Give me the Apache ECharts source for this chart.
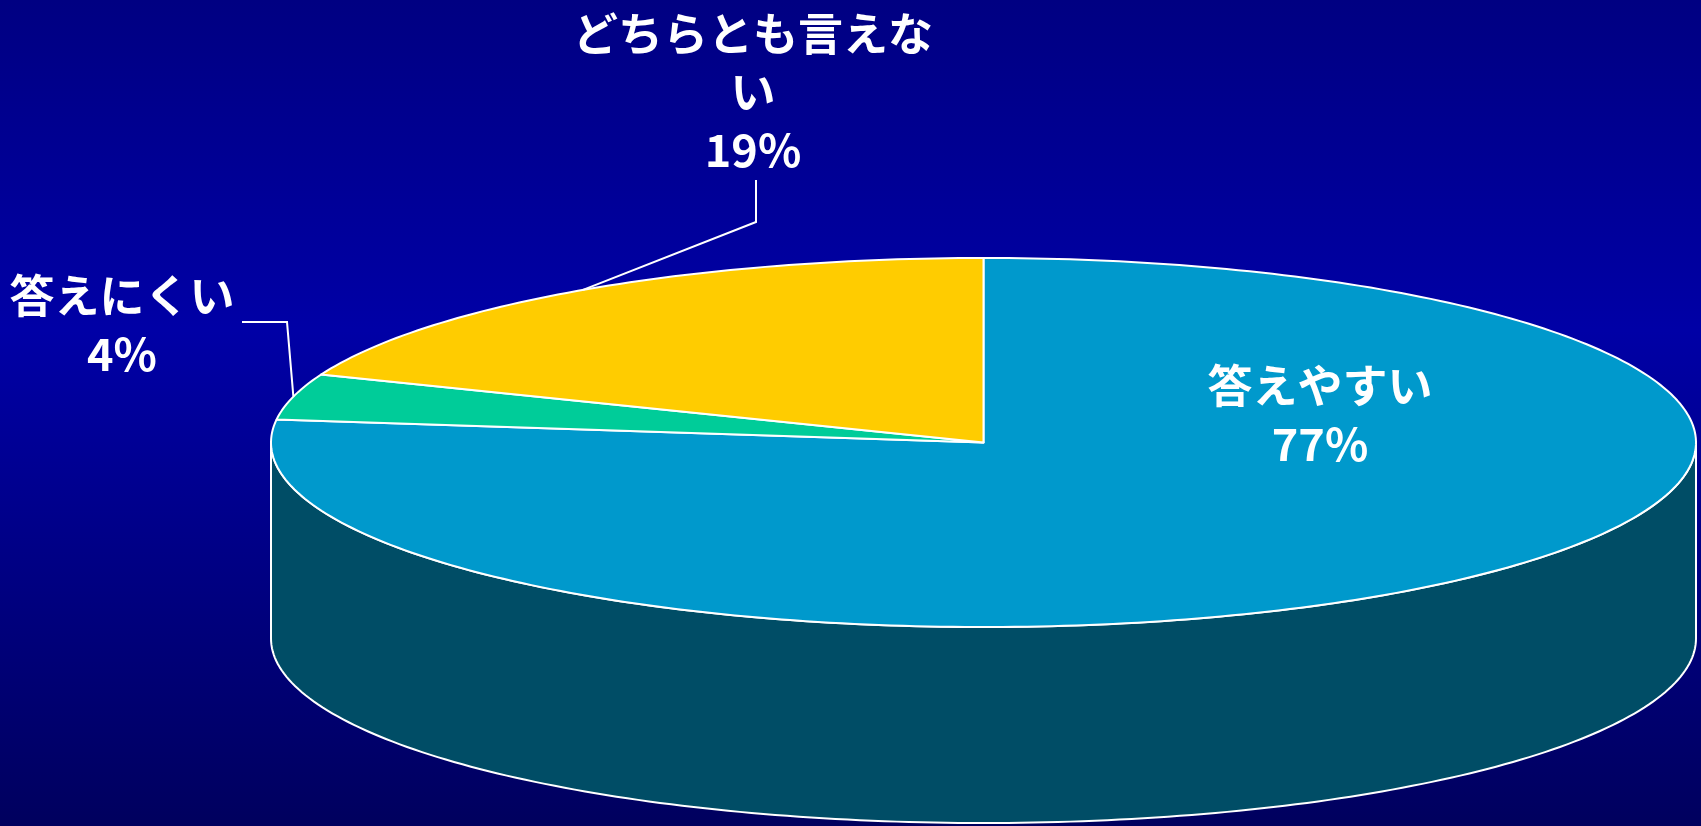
<!DOCTYPE html>
<html>
<head>
<meta charset="utf-8">
<script src="https://cdn.jsdelivr.net/npm/echarts@6/dist/echarts.min.js"></script>
<style>
  html, body { margin: 0; padding: 0; }
  #chart { width: 1701px; height: 826px; }
</style>
</head>
<body>
<div id="chart"></div>
<script>
// データ
const categories = ['答えやすい', '答えにくい', 'どちらとも言えない']
const values = [77, 4, 19]

// 見た目
const topColors = ['#0099CC', '#00CC99', '#FFCC00']
const sideColors = ['#004D66', '#006650', '#806600']
const FONT = '"Noto Sans CJK JP", sans-serif'

// 楕円 (top face) の配置
const geo = { cx: 983.5, cy: 442.5, rx: 712.5, ry: 184.5, depth: 196 }

// ラベル位置 (テキスト中心) と引き出し線の折れ点
const labelLayout = [
  { x: 1320, y: 415, elbow: null },
  { x: 122, y: 325, elbow: [[287, 322], [242, 322]] },
  { x: 753, y: 92, elbow: [[756, 222], [756, 180]] },
]

const total = values.reduce((a, b) => a + b, 0)
const starts = []
values.reduce((acc, v) => { starts.push(acc); return acc + v }, 0)

const angleOf = (v) => (v / total) * Math.PI * 2
const pt = (t, dz) => [geo.cx + geo.rx * Math.sin(t), geo.cy - geo.ry * Math.cos(t) + (dz || 0)]

const arcPoints = (a0, a1, dz) => {
  const n = Math.max(2, Math.ceil((a1 - a0) / (Math.PI / 180)))
  const pts = []
  for (let k = 0; k <= n; k++) pts.push(pt(a0 + (a1 - a0) * k / n, dz))
  return pts
}

const seriesData = values.map((v, i) => [i, v, starts[i]])

const renderSide = (params, api) => {
  const i = api.value(0)
  const a0 = angleOf(api.value(2))
  const a1 = a0 + angleOf(api.value(1))
  // 手前側 (90°〜270°) だけ側面を描く
  const s = Math.max(a0, Math.PI / 2)
  const e = Math.min(a1, Math.PI * 1.5)
  if (e <= s) return { type: 'group', children: [] }
  const top = arcPoints(s, e, 0)
  const bottom = arcPoints(s, e, geo.depth).reverse()
  return {
    type: 'polygon',
    shape: { points: top.concat(bottom) },
    style: { fill: sideColors[i], stroke: '#ffffff', lineWidth: 2, lineJoin: 'round' },
  }
}

const renderTop = (params, api) => {
  const i = api.value(0)
  const a0 = angleOf(api.value(2))
  const a1 = a0 + angleOf(api.value(1))
  const pts = [[geo.cx, geo.cy]].concat(arcPoints(a0, a1, 0))
  return {
    type: 'polygon',
    shape: { points: pts },
    style: { fill: topColors[i], stroke: '#ffffff', lineWidth: 2, lineJoin: 'round' },
  }
}

const renderLabel = (params, api) => {
  const i = api.value(0)
  const v = api.value(1)
  const a0 = angleOf(api.value(2))
  const mid = a0 + angleOf(v) / 2
  const lay = labelLayout[i]
  const children = [{
    type: 'text',
    x: lay.x,
    y: lay.y,
    style: {
      text: categories[i] + '\n' + Math.round(v / total * 100) + '%',
      width: 380,
      overflow: 'break',
      fill: '#ffffff',
      font: 'bold 45px ' + FONT,
      lineHeight: 58,
      align: 'center',
      verticalAlign: 'middle',
    },
  }]
  if (lay.elbow) {
    children.push({
      type: 'polyline',
      shape: { points: [pt(mid, 0)].concat(lay.elbow) },
      style: { stroke: '#ffffff', lineWidth: 2, fill: null },
    })
  }
  return { type: 'group', children }
}

const chart = echarts.init(document.getElementById('chart'))
chart.setOption({
  backgroundColor: new echarts.graphic.LinearGradient(0, 0, 0, 1, [
    { offset: 0, color: '#000082' },
    { offset: 0.4, color: '#0000A6' },
    { offset: 1, color: '#00005E' },
  ]),
  animation: false,
  series: [
    { type: 'custom', coordinateSystem: 'none', z: 1, data: seriesData, renderItem: renderSide, silent: true },
    { type: 'custom', coordinateSystem: 'none', z: 2, data: seriesData, renderItem: renderTop, silent: true },
    { type: 'custom', coordinateSystem: 'none', z: 3, data: seriesData, renderItem: renderLabel, silent: true },
  ],
})
</script>
</body>
</html>
